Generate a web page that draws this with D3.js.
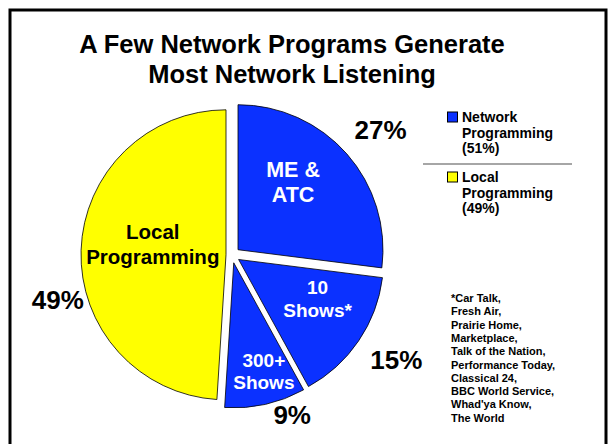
<!DOCTYPE html>
<html>
<head>
<meta charset="utf-8">
<script src="https://cdn.jsdelivr.net/npm/d3@7"></script>
<style>
  body { margin: 0; background: #fff; }
  text { font-family: "Liberation Sans", Arial, sans-serif; font-weight: bold; }
</style>
</head>
<body>
<div id="chart"></div>
<script>
// data
var titleLines = ["A Few Network Programs Generate", "Most Network Listening"];
var sliceNames = ["ME & ATC", "10 Shows", "300+ Shows", "Local Programming"];
var sliceValues = [27, 15, 9, 49];
var sliceLabels = [["ME &", "ATC"], ["10", "Shows*"], ["300+", "Shows"], ["Local", "Programming"]];
var pctLabels = ["27%", "15%", "9%", "49%"];
var legendNames = [["Network", "Programming", "(51%)"], ["Local", "Programming", "(49%)"]];
var footnote = ["*Car Talk,", "Fresh Air,", "Prairie Home,", "Marketplace,", "Talk of the Nation,",
    "Performance Today,", "Classical 24,", "BBC World Service,", "Whad'ya Know,", "The World"];

var width = 615, height = 444;
var blue = "#0b31ff", yellow = "#ffff00";
var sliceColors = [blue, blue, blue, yellow];
var labelColors = ["#fff", "#fff", "#fff", "#000"];
var explode = [8, 8, 8, 6];
// inner labels: [angle deg, radius, font size, line height]
var labelPos = [[40, 95, 21.5, 25], [117, 96, 19, 23], [164.6, 120, 19, 22], [278, 80, 20.5, 25]];
// percent labels: [angle deg, radius]
var pctPos = [[50, 194], [122.6, 195], [159.4, 171], [255.5, 180]];

var svg = d3.select("#chart").append("svg")
    .attr("width", width)
    .attr("height", height);

// frame
svg.append("rect")
    .attr("x", 10).attr("y", 10)
    .attr("width", 596).attr("height", 450)
    .attr("fill", "none")
    .attr("stroke", "#000")
    .attr("stroke-width", 3);

svg.selectAll(".title")
    .data(titleLines)
    .enter().append("text")
    .attr("x", 292)
    .attr("y", function(d, i) { return 53 + i * 30; })
    .attr("text-anchor", "middle")
    .attr("font-size", 25.5)
    .text(function(d) { return d; });

var cx = 232, cy = 255, r = 145;

var pie = d3.pie().sort(null).value(function(d) { return d; });
var arcs = pie(sliceValues);
var arc = d3.arc().innerRadius(0).outerRadius(r);

var g = svg.append("g").attr("transform", "translate(" + cx + "," + cy + ")");

function polar(a, d) {
    return [Math.sin(a) * d, -Math.cos(a) * d];
}
var rad = Math.PI / 180;

g.selectAll(".slice")
    .data(arcs)
    .enter().append("path")
    .attr("class", "slice")
    .attr("transform", function(d, i) {
        var p = polar((d.startAngle + d.endAngle) / 2, explode[i]);
        return "translate(" + p[0] + "," + p[1] + ")";
    })
    .attr("d", arc)
    .attr("fill", function(d, i) { return sliceColors[i]; })
    .attr("stroke", "#000")
    .attr("stroke-width", 0.8);

arcs.forEach(function(d, i) {
    var lp = labelPos[i];
    var p = polar(lp[0] * rad, lp[1]);
    var t = g.append("text")
        .attr("text-anchor", "middle")
        .attr("font-size", lp[2])
        .attr("fill", labelColors[i]);
    var n = sliceLabels[i].length;
    sliceLabels[i].forEach(function(line, j) {
        t.append("tspan")
            .attr("x", p[0])
            .attr("y", p[1] + (j - (n - 1) / 2) * lp[3] + lp[2] * 0.36)
            .text(line);
    });
    var q = polar(pctPos[i][0] * rad, pctPos[i][1]);
    g.append("text")
        .attr("x", q[0])
        .attr("y", q[1] + 9)
        .attr("text-anchor", "middle")
        .attr("font-size", 26)
        .attr("fill", "#000")
        .text(pctLabels[i]);
});

// legend
var legend = svg.append("g");
var legendY = [122, 182];
var legendColors = [blue, yellow];
legendNames.forEach(function(lines, i) {
    legend.append("rect")
        .attr("x", 447.5).attr("y", legendY[i] - 10)
        .attr("width", 10).attr("height", 10)
        .attr("fill", legendColors[i])
        .attr("stroke", "#000")
        .attr("stroke-width", 1);
    lines.forEach(function(line, j) {
        legend.append("text")
            .attr("x", 462)
            .attr("y", legendY[i] + j * 15.5)
            .attr("font-size", 14)
            .text(line);
    });
});
legend.append("line")
    .attr("x1", 423).attr("x2", 572)
    .attr("y1", 164).attr("y2", 164)
    .attr("stroke", "#888")
    .attr("stroke-width", 1.5);

svg.selectAll(".foot")
    .data(footnote)
    .enter().append("text")
    .attr("x", 451)
    .attr("y", function(d, i) { return 302 + i * 13.3; })
    .attr("font-size", 11)
    .text(function(d) { return d; });
</script>
</body>
</html>
